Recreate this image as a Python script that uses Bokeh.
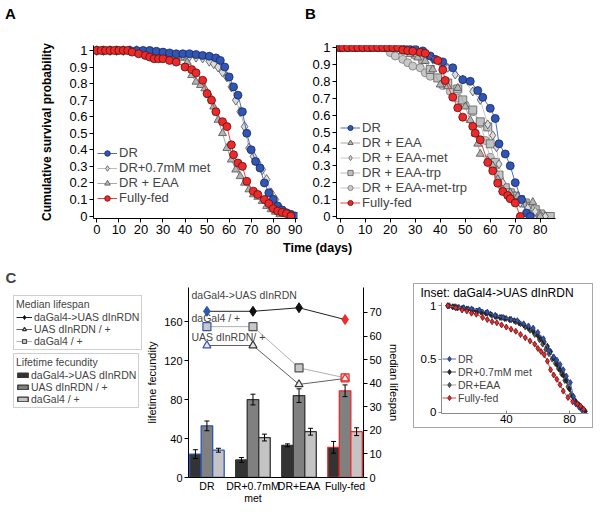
from bokeh.plotting import figure
from bokeh.layouts import column, row
from bokeh.models import (ColumnDataSource, Range1d, FactorRange, LinearAxis, Legend,
                          LegendItem, Label, FixedTicker, CustomJSTickFormatter, Title, Div)
from bokeh.transform import dodge, factor_cmap
from bokeh.embed import file_html
from bokeh.resources import INLINE

FONT = "Liberation Sans"

# ---------------- Panel A data (days, survival) ----------------
a_dr_day = [0,3,6,9,12,15,18,21,24,27,30,33,36,39,42,45,48,51,54,56,58,60,62,64,66,68,70,72,74,76,78,80,82,84,86,88,90]
a_dr_surv = [1,1,1,1,1,1,1,1,1,0.995,0.99,0.985,0.98,0.98,0.98,0.975,0.97,0.965,0.955,0.94,0.9,0.84,0.78,0.73,0.63,0.5,0.4,0.33,0.29,0.2,0.14,0.1,0.06,0.036,0.02,0.01,0]
a_met_day = [0,3,6,9,12,15,18,21,24,27,30,33,36,39,42,45,48,51,53,55,57,59,61,63,65,67,69,71,73,75,77,79,81,83,85,87]
a_met_surv = [1,1,1,1,1,1,1,0.99,0.985,0.98,0.975,0.975,0.97,0.97,0.965,0.96,0.955,0.935,0.92,0.9,0.87,0.84,0.78,0.7,0.63,0.54,0.41,0.36,0.32,0.28,0.22,0.14,0.1,0.05,0.03,0.01]
a_eaa_day = [0,3,6,9,12,15,18,21,24,27,30,33,36,39,41,43,45,47,49,51,53,55,57,59,61,63,65,67,69,71,73,75,77,79,81,83]
a_eaa_surv = [1,1,1,1,1,1,0.995,0.99,0.98,0.975,0.97,0.97,0.965,0.955,0.93,0.85,0.81,0.79,0.77,0.73,0.66,0.58,0.5,0.41,0.34,0.28,0.24,0.2,0.16,0.13,0.115,0.09,0.06,0.04,0.025,0.01]
a_ff_day = [0,2,4,6,8,10,12,14,16,19,22,24,26,28,30,33,36,40,43,45,48,50,52,54,57,59,61,62,64,66,68,71,73,76,78,80,82,84,86,88]
a_ff_surv = [1,1,1,1,1,1,1,1,0.99,0.98,0.97,0.96,0.95,0.95,0.95,0.94,0.93,0.9,0.885,0.865,0.82,0.74,0.7,0.63,0.57,0.54,0.43,0.37,0.32,0.3,0.21,0.15,0.13,0.1,0.075,0.045,0.03,0.022,0.015,0]

# ---------------- Panel B data ----------------
b_dr_day = [0,3,6,9,12,15,18,21,24,27,30,33,36,38,41,45,49,52,55,57,60,62,63.5,66,68,70,72.5,74.5,76]
b_dr_surv = [1,1,1,1,1,1,1,1,1,1,0.99,0.98,0.95,0.93,0.915,0.88,0.81,0.8,0.745,0.705,0.64,0.58,0.43,0.37,0.3,0.2,0.1,0.02,0]
b_eaa_day = [0,3,6,9,12,15,18,20,22,25,28,31,34,37,40,43,47,50,52,54,55,56,59,61,63,65,68,71,73,77,80]
b_eaa_surv = [1,1,1,1,1,1,1,1,0.99,0.975,0.96,0.94,0.92,0.87,0.78,0.77,0.76,0.65,0.57,0.49,0.43,0.37,0.33,0.3,0.22,0.16,0.14,0.12,0.1,0.085,0]
b_met_day = [0,3,6,9,12,15,18,21,24,26,28,31,34,37,40,43,46,49,53,56,59,61,62.5,63.5,65,67,69,72,75,78,80,82]
b_met_surv = [1,1,1,1,1,1,1,1,1,1,0.99,0.97,0.95,0.93,0.91,0.88,0.84,0.81,0.74,0.69,0.545,0.48,0.41,0.31,0.2,0.124,0.1,0.08,0.05,0.03,0.01,0]
b_trp_day = [0,3,6,9,12,15,18,21,24,27,30,33,36,39,43,47,49,53,56,59,60,62,63.5,66,68,70,72,74,76,78,80,84]
b_trp_surv = [1,1,1,1,1,1,1,1,1,0.985,0.96,0.93,0.87,0.82,0.79,0.755,0.69,0.63,0.56,0.53,0.43,0.32,0.245,0.17,0.14,0.12,0.1,0.08,0.06,0.04,0.015,0]
b_mt_day = [0,3,6,9,12,15,18,20,22,25,27,29,32,34,36,39,41,44,47,50,53,56,58,60,62,63.5,65,67,69,71,73,75,77,79,81,83]
b_mt_surv = [1,1,1,1,1,1,1,0.97,0.95,0.93,0.91,0.89,0.88,0.85,0.83,0.82,0.775,0.74,0.7,0.66,0.62,0.55,0.45,0.35,0.3,0.23,0.17,0.15,0.13,0.1,0.08,0.06,0.04,0.02,0.01,0]
b_ff_day = [0,1,3,5,7,9,11,13,15,17,19,21,23,25,27,29,32,34,39,41,42,45,47,49,53,54,56,59,61,63,65,67,68,70,72]
b_ff_surv = [1,1,1,1,1,1,1,1,1,1,1,1,1,0.986,0.982,0.978,0.972,0.966,0.923,0.868,0.805,0.706,0.643,0.588,0.533,0.493,0.454,0.32,0.27,0.197,0.148,0.124,0.105,0.08,0]

# ---------------- Panel C data ----------------
cats = ["DR", "DR+0.7mM\nmet", "DR+EAA", "Fully-fed"]
fec_dainr = [24, 18, 33, 31]
fec_dainr_err = [4.5, 2.5, 1.5, 6]
fec_uas = [53, 80, 84, 89]
fec_uas_err = [5, 5.5, 7, 6]
fec_da = [28, 41, 47, 47]
fec_da_err = [2, 3.5, 3.5, 4]
med_dainr = [70.5, 70.5, 72, 67]
med_uas = [56, 56, 39.5, 42]
med_da = [64, 64, 46.5, 42.3]

# ---------------- Inset data ----------------
i_dr_day = [3,8,13,18,23,28,33,38,43,47,51,54,57,60,63.5,67,70,72,74,76,78,80.5,82.5,84,86,88]
i_dr_surv = [1,0.99,0.98,0.97,0.96,0.94,0.91,0.89,0.87,0.86,0.83,0.81,0.79,0.75,0.69,0.58,0.52,0.49,0.45,0.4,0.34,0.28,0.15,0.08,0.05,0.02]
i_met_day = [3,6,9,12,15,18,21,24,27,30,33,36,39,42,45,48,51,54,57,60,62,64,66,68,70,72,74,76,78,80,82,84,86,88,90]
i_met_surv = [1,0.99,0.98,0.975,0.97,0.96,0.95,0.94,0.93,0.92,0.9,0.89,0.88,0.87,0.86,0.84,0.82,0.79,0.76,0.72,0.69,0.66,0.62,0.57,0.51,0.45,0.4,0.35,0.3,0.22,0.15,0.1,0.07,0.04,0.01]
i_eaa_day = [4,7,10,13,16,19,22,25,28,31,34,37,40,43,46,49,52,55,58,61,63,65,67,69,71,73,75,77,79,81,83,85,87]
i_eaa_surv = [1,0.99,0.985,0.98,0.97,0.96,0.95,0.94,0.93,0.91,0.9,0.89,0.88,0.87,0.85,0.83,0.8,0.77,0.73,0.68,0.64,0.59,0.55,0.5,0.46,0.41,0.36,0.3,0.24,0.17,0.12,0.08,0.04]
i_ff_day = [3,8,12,15,18,21,25,28,31,34,37,40,43,46,49,52,55,58,60,62,64,66,68,70,72,74,76,79,82,85,87,89]
i_ff_surv = [1,0.98,0.96,0.95,0.93,0.92,0.89,0.87,0.85,0.84,0.82,0.8,0.78,0.76,0.73,0.7,0.67,0.64,0.6,0.57,0.54,0.48,0.4,0.35,0.31,0.26,0.2,0.14,0.1,0.08,0.06,0.03]

BLUE = "#2f55b5"
BLUE_LINE = "#4c6cc4"
RED = "#ec2a2a"
RED_LINE = "#e84040"

fmt01 = CustomJSTickFormatter(code="return (Math.abs(tick) < 1e-9 || Math.abs(tick-1) < 1e-9) ? tick.toFixed(0) : tick.toFixed(1);")


def clean(p):
    p.grid.visible = False
    p.outline_line_color = None
    p.background_fill_color = "white"
    p.border_fill_color = "white"


def axes_style(p, size, color="black"):
    for ax in list(p.xaxis) + list(p.yaxis):
        ax.axis_line_color = color
        ax.axis_line_width = 1
        ax.major_tick_line_color = color
        ax.major_tick_in = 0
        ax.major_tick_out = 4
        ax.minor_tick_line_color = None
        ax.major_label_text_font = FONT
        ax.major_label_text_font_size = size
        ax.major_label_text_color = "black"
        ax.axis_label_text_font = FONT
        ax.axis_label_text_color = "black"
        ax.major_label_standoff = 2


def curve(p, xs, ys, color, marker, fill, edge, size, lw=1):
    src = ColumnDataSource(dict(day=xs, surv=ys))
    ln = p.line("day", "surv", source=src, line_color=color, line_width=lw)
    sc = p.scatter("day", "surv", source=src, marker=marker, size=size,
                   fill_color=fill, line_color=edge, line_width=0.8)
    return [ln, sc]


# ================= Panel letters A / B =================
div_ab = Div(text=('<div style="position:relative;width:600px;height:22px;font-family:\'Liberation Sans\';'
                   'font-size:15px;font-weight:bold;line-height:15px;color:black">'
                   '<span style="position:absolute;left:5px;top:6px">A</span>'
                   '<span style="position:absolute;left:305px;top:6px">B</span></div>'),
             width=600, height=22, margin=0)

# ================= Panel A =================
pa = figure(width=307, height=218, x_range=Range1d(-1.5, 91), y_range=Range1d(-0.015, 1.03),
            output_backend="svg", toolbar_location=None, title=None,
            min_border_left=93, min_border_right=10, min_border_top=23, min_border_bottom=22)
clean(pa)
axes_style(pa, "13px")
pa.xaxis.ticker = FixedTicker(ticks=list(range(0, 91, 10)))
pa.yaxis.ticker = FixedTicker(ticks=[round(i * 0.1, 1) for i in range(11)])
pa.yaxis.formatter = fmt01
pa.yaxis.axis_label = "Cumulative survival probability"
pa.yaxis.axis_label_text_font_style = "bold"
pa.yaxis.axis_label_text_font_size = "12px"
pa.yaxis.axis_label_standoff = 12

ra_eaa = curve(pa, a_eaa_day, a_eaa_surv, "#a8a8a8", "triangle", "#b4b4b4", "#505050", 8)
ra_met = curve(pa, a_met_day, a_met_surv, "#bcbcbc", "diamond", "#dcdcdc", "#505050", 10)
ra_dr = curve(pa, a_dr_day, a_dr_surv, BLUE_LINE, "circle", BLUE, "#1c2a5c", 8)
ra_ff = curve(pa, a_ff_day, a_ff_surv, RED_LINE, "circle", RED, "#5a1010", 8)

leg_a = Legend(items=[LegendItem(label="DR", renderers=ra_dr),
                      LegendItem(label="DR+0.7mM met", renderers=ra_met),
                      LegendItem(label="DR + EAA", renderers=ra_eaa),
                      LegendItem(label="Fully-fed", renderers=ra_ff)],
               location=(4, 13), label_text_font=FONT, label_text_font_size="13px",
               label_text_line_height=1.0,
               glyph_width=20, glyph_height=14, label_height=14, label_standoff=2,
               spacing=0, padding=3, margin=0, border_line_color=None,
               background_fill_alpha=0)
pa.add_layout(leg_a)

# ================= Panel B =================
pb = figure(width=293, height=218, x_range=Range1d(-1.5, 86.1), y_range=Range1d(-0.012, 1.012),
            output_backend="svg", toolbar_location=None, title=None,
            min_border_left=29, min_border_right=45, min_border_top=23, min_border_bottom=22)
clean(pb)
axes_style(pb, "13px")
pb.xaxis.ticker = FixedTicker(ticks=list(range(0, 81, 10)))
pb.yaxis.ticker = FixedTicker(ticks=[round(i * 0.1, 1) for i in range(11)])
pb.yaxis.formatter = fmt01

rb_mt = curve(pb, b_mt_day, b_mt_surv, "#c4c4c4", "circle", "#c8c8c8", "#7a7a7a", 8)
rb_trp = curve(pb, b_trp_day, b_trp_surv, "#b8b8b8", "square", "#c0c0c0", "#5a5a5a", 8)
rb_met = curve(pb, b_met_day, b_met_surv, "#c8c8c8", "diamond", "#dcdcdc", "#505050", 9)
rb_eaa = curve(pb, b_eaa_day, b_eaa_surv, "#a8a8a8", "triangle", "#b4b4b4", "#505050", 8)
rb_dr = curve(pb, b_dr_day, b_dr_surv, BLUE_LINE, "circle", BLUE, "#1c2a5c", 8)
rb_ff = curve(pb, b_ff_day, b_ff_surv, RED_LINE, "circle", RED, "#5a1010", 8)

leg_b = Legend(items=[LegendItem(label="DR", renderers=rb_dr),
                      LegendItem(label="DR + EAA", renderers=rb_eaa),
                      LegendItem(label="DR + EAA-met", renderers=rb_met),
                      LegendItem(label="DR + EAA-trp", renderers=rb_trp),
                      LegendItem(label="DR + EAA-met-trp", renderers=rb_mt),
                      LegendItem(label="Fully-fed", renderers=rb_ff)],
               location=(4, 8), label_text_font=FONT, label_text_font_size="13px",
               label_text_line_height=1.0,
               glyph_width=20, glyph_height=13, label_height=13, label_standoff=2,
               spacing=0, padding=3, margin=0, border_line_color=None,
               background_fill_alpha=0)
pb.add_layout(leg_b)

# ================= Time label =================
div_time = Div(text='<div style="margin-left:283px;font-family:\'Liberation Sans\';font-size:12.5px;'
                    'font-weight:bold;line-height:16px;color:black">Time (days)</div>',
               width=600, height=16, margin=0)

# ================= Panel C (bars + median lifespan) =================
src_c = ColumnDataSource(dict(
    cond=cats,
    fd=fec_dainr, fd_lo=[v - e for v, e in zip(fec_dainr, fec_dainr_err)], fd_hi=[v + e for v, e in zip(fec_dainr, fec_dainr_err)],
    fu=fec_uas, fu_lo=[v - e for v, e in zip(fec_uas, fec_uas_err)], fu_hi=[v + e for v, e in zip(fec_uas, fec_uas_err)],
    fg=fec_da, fg_lo=[v - e for v, e in zip(fec_da, fec_da_err)], fg_hi=[v + e for v, e in zip(fec_da, fec_da_err)],
    md=med_dainr, mu=med_uas, mg=med_da,
))

xr = FactorRange(factors=cats, range_padding=-0.05)
yr = Range1d(0, 195)
life = Range1d(0, 80.6)

pc = figure(width=262, height=259, x_range=xr, y_range=yr, output_backend="svg",
            toolbar_location=None, title=None,
            min_border_left=40, min_border_right=42, min_border_top=31, min_border_bottom=38)
clean(pc)
pc.extra_y_ranges = {"life": life}
ax_r = LinearAxis(y_range_name="life", axis_label="median lifespan",
                  ticker=FixedTicker(ticks=list(range(0, 71, 10))))
pc.add_layout(ax_r, "right")
axes_style(pc, "11px")
pc.yaxis[0].ticker = FixedTicker(ticks=[0, 40, 80, 120, 160])
pc.yaxis[0].axis_label = "lifetime fecundity"
for ax in pc.yaxis:
    ax.axis_label_text_font_size = "11px"
    ax.axis_label_text_font_style = "normal"
    ax.axis_label_standoff = 3
pc.xaxis.major_tick_line_color = None
pc.xaxis.major_tick_out = 0
pc.xaxis.major_label_text_font_size = "10.5px"
pc.xaxis.major_label_text_line_height = 1.0
pc.xaxis.major_label_standoff = 2

EDGE = ["#333333", "#333333"]
bar_specs = [("fd", -0.25, "#333333"), ("fu", 0.0, "#808080"), ("fg", 0.25, "#c4c4c4")]


def draw_c(p, visible=True):
    edge_cmap = factor_cmap("cond", palette=[BLUE] + EDGE + [RED], factors=cats)
    rs = {}
    for col, off, fill in bar_specs:
        xs = dodge("cond", off, range=xr)
        rs[col] = p.vbar(x=xs, top=col, width=0.25, source=src_c, fill_color=fill,
                         line_color=edge_cmap, line_width=1.3, visible=visible)
        if visible:
            p.segment(x0=xs, y0=col + "_lo", x1=xs, y1=col + "_hi", source=src_c,
                      line_color="black", line_width=1)
            p.scatter(x=xs, y=col + "_hi", marker="dash", size=5, source=src_c, line_color="black")
            p.scatter(x=xs, y=col + "_lo", marker="dash", size=5, source=src_c, line_color="black")
    rs["lg"] = p.line("cond", "mg", source=src_c, y_range_name="life", line_color="#b0b0b0",
                      line_width=1, visible=visible)
    rs["sg"] = p.scatter("cond", "mg", source=src_c, y_range_name="life", marker="square", size=8,
                         fill_color="#c8c8c8",
                         line_color=factor_cmap("cond", [BLUE, "#505050", "#505050", RED], cats),
                         line_width=1.2, visible=visible)
    rs["lu"] = p.line("cond", "mu", source=src_c, y_range_name="life", line_color="#606060",
                      line_width=1, visible=visible)
    rs["su"] = p.scatter("cond", "mu", source=src_c, y_range_name="life", marker="triangle", size=8,
                         fill_color="#e8e8e8",
                         line_color=factor_cmap("cond", [BLUE, "#333333", "#333333", RED], cats),
                         line_width=1.2, visible=visible)
    rs["ld"] = p.line("cond", "md", source=src_c, y_range_name="life", line_color="#222222",
                      line_width=1, visible=visible)
    rs["sd"] = p.scatter("cond", "md", source=src_c, y_range_name="life", marker="diamond", size=10,
                         fill_color=factor_cmap("cond", [BLUE, "#111111", "#111111", RED], cats),
                         line_color=factor_cmap("cond", [BLUE, "#111111", "#111111", RED], cats),
                         visible=visible)
    return rs


draw_c(pc)
for txt, yv in [("daGal4->UAS dInRDN", 77.6), ("daGal4 / +", 67.5), ("UAS dInRDN/ +", 59.4)]:
    pc.add_layout(Label(x=3, x_units="screen", y=yv, y_range_name="life", text=txt,
                        text_font=FONT, text_font_size="10.5px", text_baseline="middle"))

# ---- legend panel for C (shares the ranges of the bar chart) ----
pl = figure(width=143, height=259, x_range=xr, y_range=yr, output_backend="svg",
            toolbar_location=None, title=None, x_axis_type=None, y_axis_type=None,
            min_border=0, min_border_left=0, min_border_right=0, min_border_top=0,
            min_border_bottom=0)
clean(pl)
pl.extra_y_ranges = {"life": life}
rl = draw_c(pl, visible=False)

leg_common = dict(label_text_font=FONT, label_text_font_size="10.5px", label_standoff=2,
                  label_height=12, spacing=0, padding=2, margin=0,
                  border_line_color="#a0a0a0", border_line_width=1,
                  background_fill_color="white", background_fill_alpha=1,
                  title_text_font=FONT, title_text_font_size="10.5px",
                  title_text_font_style="normal", title_standoff=1)
leg_med = Legend(items=[LegendItem(label="daGal4->UAS dInRDN", renderers=[rl["ld"], rl["sd"]], index=1),
                        LegendItem(label="UAS dInRDN / +", renderers=[rl["lu"], rl["su"]], index=1),
                        LegendItem(label="daGal4 / +", renderers=[rl["lg"], rl["sg"]], index=1)],
                 title="Median lifespan", location=(13, 165),
                 glyph_width=16, glyph_height=10, **leg_common)
leg_fec = Legend(items=[LegendItem(label="daGal4->UAS dInRDN", renderers=[rl["fd"]], index=1),
                        LegendItem(label="UAS dInRDN / +", renderers=[rl["fu"]], index=1),
                        LegendItem(label="daGal4 / +", renderers=[rl["fg"]], index=1)],
                 title="Lifetime fecundity", location=(13, 107),
                 glyph_width=13, glyph_height=6, **leg_common)
pl.add_layout(leg_med)
pl.add_layout(leg_fec)
pl.add_layout(Label(x=5, y=247, x_units="screen", y_units="screen", text="C",
                    text_font=FONT, text_font_size="15px", text_font_style="bold",
                    text_baseline="top"))

# ================= Inset =================
pi = figure(width=180, height=145, x_range=Range1d(-1, 92), y_range=Range1d(-0.01, 1.03),
            output_backend="svg", toolbar_location=None,
            title=Title(text="Inset: daGal4->UAS dInRDN", align="left", offset=-21,
                        vertical_align="top", standoff=2, text_font=FONT, text_font_size="12px",
                        text_font_style="normal", text_color="black"),
            min_border_left=27, min_border_right=6, min_border_top=18, min_border_bottom=16)
clean(pi)
axes_style(pi, "11.5px", color="#8a8a8a")
pi.xaxis.ticker = FixedTicker(ticks=[40, 80])
pi.xaxis.major_tick_out = 0
pi.xaxis.major_tick_in = 3
pi.xaxis.major_label_standoff = 1
pi.yaxis.ticker = FixedTicker(ticks=[0, 0.5, 1])
pi.yaxis.major_tick_out = 3
pi.yaxis.formatter = fmt01
pi.styles = {"border": "1px solid #a8a8a8"}

ri_eaa = curve(pi, i_eaa_day, i_eaa_surv, "#a0a0a0", "diamond", "#5a5a5a", "#333333", 6)
ri_met = curve(pi, i_met_day, i_met_surv, "#555555", "diamond", "#2a2a2a", "#111111", 6)
ri_dr = curve(pi, i_dr_day, i_dr_surv, BLUE_LINE, "diamond", BLUE, "#1c2a5c", 6)
ri_ff = curve(pi, i_ff_day, i_ff_surv, RED_LINE, "diamond", RED, "#5a1010", 6)

leg_i = Legend(items=[LegendItem(label="DR", renderers=ri_dr),
                      LegendItem(label="DR+0.7mM met", renderers=ri_met),
                      LegendItem(label="DR+EAA", renderers=ri_eaa),
                      LegendItem(label="Fully-fed", renderers=ri_ff)],
               location=(1, 9), label_text_font=FONT, label_text_font_size="10.5px",
               glyph_width=14, glyph_height=13, label_height=13, label_standoff=2,
               spacing=0, padding=2, margin=0, border_line_color=None,
               background_fill_alpha=0)
pi.add_layout(leg_i)

row2 = row(column(pl), column(pc), column(pi, margin=(27, 0, 0, 8)))
layout = column(div_ab, row(pa, pb), div_time, row2)

with open("out.html", "w") as f:
    f.write(file_html(layout, INLINE))
